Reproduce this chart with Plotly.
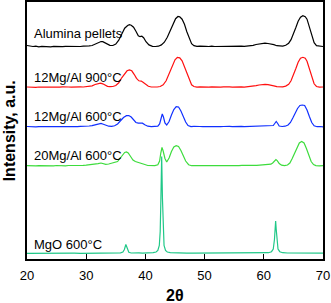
import plotly.graph_objects as go

# ---- data (2-theta in degrees, intensity in a.u. above each baseline) ----
alumina_2theta = [20, 20.5, 21, 21.5, 22, 22.5, 23, 23.5, 24, 24.5, 25, 25.5, 26, 26.5, 27, 27.5, 28, 28.5, 29, 29.5,
                  30, 30.5, 31, 31.5, 32, 32.5, 32.8, 33.2, 33.6, 34, 34.5, 35, 35.5, 36, 36.5, 37, 37.3, 37.6, 38, 38.4,
                  38.8, 39.1, 39.4, 39.7, 40.1, 40.6, 41.2, 41.7, 42.2, 42.7, 43.2, 43.7, 44.2, 44.7, 45.1, 45.5, 45.8, 46.2, 46.6, 47,
                  47.4, 47.8, 48.2, 48.7, 49.2, 49.7, 50.2, 50.7, 51.2, 51.7, 52.2, 52.7, 53.2, 53.7, 54.2, 54.7, 55.2, 55.7, 56.2, 56.7,
                  57.2, 57.7, 58.2, 58.7, 59.2, 59.7, 60.2, 60.7, 61.2, 61.7, 62.2, 62.7, 63.2, 63.7, 64.2, 64.6, 65, 65.4, 65.8, 66.2,
                  66.6, 67.0, 67.3, 67.7, 68.1, 68.5, 68.9, 69.4, 70]
alumina_int = [1.2, 0.6, 0.2, 0.5, -0.1, 0.3, 0.1, 0.4, -0.2, 0.3, 0.1, 0.5, 0.0, 0.3, 0.2, 0.6, 0.1, 0.4, 0.2, 0.5,
               0.4, 0.8, 1.2, 2.7, 4.2, 5.2, 5.0, 3.5, 2.2, 1.3, 1.2, 2.7, 6.5, 12.5, 18.5, 21.2, 22.0, 21.5, 19.5, 15.5,
               11.0, 10.0, 10.5, 9.0, 5.0, 1.8, 0.4, 0.2, 0.5, 1.8, 4.5, 9.5, 16.0, 23.0, 28.0, 30.2, 29.8, 27.5, 22.5, 15.0,
               8.5, 3.0, 1.0, 0.3, 0.5, 0.1, 0.4, 0.2, 0.6, 0.2, 0.3, 0.1, 0.5, 0.2, 0.4, 0.1, 0.5, 0.3, 0.6, 0.4,
               0.7, 0.8, 1.3, 2.2, 2.8, 3.3, 3.6, 3.2, 2.9, 2.0, 1.0, 0.5, 0.6, 1.5, 3.5, 7.0, 12.5, 19.0, 25.5, 29.5,
               31.0, 30.0, 27.5, 20.0, 11.0, 4.0, 1.0, 0.3, 0.2]

mg12_900_2theta = [20, 20.5, 21, 21.5, 22, 22.5, 23, 23.5, 24, 24.5, 25, 25.5, 26, 26.5, 27, 27.5, 28, 28.5, 29, 29.5,
                   30, 30.5, 31, 31.5, 32, 32.4, 32.8, 33.2, 33.6, 34, 34.5, 35, 35.5, 36, 36.5, 36.9, 37.3, 37.7, 38.1, 38.5,
                   38.9, 39.3, 39.6, 40, 40.5, 41, 41.5, 42, 42.5, 43, 43.5, 44, 44.5, 45, 45.4, 45.8, 46.2, 46.6, 47, 47.4,
                   47.8, 48.2, 48.7, 49.2, 49.7, 50.2, 50.7, 51.2, 51.7, 52.2, 52.7, 53.2, 53.7, 54.2, 54.7, 55.2, 55.7, 56.2, 56.7, 57.2,
                   57.7, 58.2, 58.7, 59.2, 59.7, 60.2, 60.7, 61.2, 61.7, 62.2, 62.7, 63.2, 63.7, 64.2, 64.6, 65, 65.4, 65.8, 66.2, 66.6,
                   67.0, 67.3, 67.7, 68.1, 68.5, 68.9, 69.4, 70]
mg12_900_int = [0.3, 0.1, 0.4, 0.0, 0.3, 0.2, 0.5, 0.1, 0.3, 0.0, 0.4, 0.2, 0.5, 0.1, 0.3, 0.2, 0.5, 0.2, 0.4, 0.3,
                0.6, 0.8, 1.5, 2.8, 3.6, 4.2, 3.5, 2.0, 1.0, 0.6, 0.8, 1.8, 4.5, 9.5, 14.0, 16.5, 17.3, 16.5, 13.0, 9.0,
                6.5, 6.2, 5.0, 3.0, 1.0, 0.3, 0.1, 0.3, 0.8, 2.5, 6.5, 13.0, 21.0, 27.5, 30.0, 29.5, 26.5, 20.5, 13.5, 7.0,
                2.5, 0.8, 0.2, 0.4, 0.1, 0.5, 0.2, 0.4, 0.1, 0.3, 0.2, 0.5, 0.1, 0.4, 0.2, 0.5, 0.3, 0.4, 0.2, 0.5,
                0.5, 0.9, 1.6, 2.3, 2.8, 3.0, 2.6, 2.2, 1.4, 0.6, 0.3, 0.5, 1.2, 3.0, 6.5, 12.0, 18.5, 25.0, 29.0, 30.0,
                29.0, 26.0, 18.5, 10.0, 3.5, 0.8, 0.2, 0.3]

mg12_600_2theta = [20, 20.5, 21, 21.5, 22, 22.5, 23, 23.5, 24, 24.5, 25, 25.5, 26, 26.5, 27, 27.5, 28, 28.5, 29, 29.5,
                   30, 30.5, 31, 31.5, 32, 32.5, 32.9, 33.3, 33.8, 34.3, 34.8, 35.3, 35.8, 36.3, 36.8, 37.2, 37.6, 38, 38.4, 38.8,
                   39.2, 39.5, 39.9, 40.4, 41, 41.6, 42.1, 42.4, 42.65, 42.85, 43.05, 43.3, 43.6, 44, 44.4, 44.8, 45.2, 45.6, 46, 46.4,
                   46.8, 47.2, 47.7, 48.2, 48.7, 49.2, 49.7, 50.2, 50.7, 51.2, 51.7, 52.2, 52.7, 53.2, 53.7, 54.2, 54.7, 55.2, 55.7, 56.2,
                   56.7, 57.2, 57.7, 58.2, 58.7, 59.2, 59.7, 60.2, 60.7, 61.2, 61.6, 61.85, 62.1, 62.35, 62.6, 63.1, 63.6, 64.1, 64.5, 64.9,
                   65.3, 65.7, 66.1, 66.5, 66.9, 67.3, 67.7, 68.1, 68.5, 69, 69.5, 70]
mg12_600_int = [0.5, 0.2, 0.6, 0.1, 0.4, 0.2, 0.6, 0.3, 0.5, 0.1, 0.4, 0.3, 0.6, 0.2, 0.5, 0.3, 0.7, 0.4, 0.6, 0.5,
                0.8, 1.0, 1.4, 2.0, 2.8, 3.6, 2.8, 1.6, 0.8, 0.7, 1.2, 3.0, 6.5, 9.5, 11.3, 11.5, 10.0, 7.0, 4.5, 3.8,
                4.2, 3.8, 2.2, 0.8, 0.3, 0.4, 0.8, 3.0, 10.0, 13.0, 10.0, 4.0, 2.0, 5.5, 12.0, 17.5, 20.3, 20.0, 16.0, 10.0,
                5.0, 1.5, 0.4, 0.6, 0.2, 0.5, 0.3, 0.6, 0.2, 0.5, 0.4, 0.7, 0.3, 0.5, 0.2, 0.6, 0.4, 0.7, 0.3, 0.6,
                0.4, 0.5, 0.6, 0.8, 0.7, 1.1, 1.4, 1.2, 1.5, 1.1, 1.5, 3.5, 5.5, 3.5, 1.0, 0.5, 0.8, 2.0, 4.5, 9.0,
                14.0, 18.5, 21.5, 22.0, 21.5, 17.0, 10.5, 4.5, 1.2, 0.3, 0.5, 0.2]

mg20_600_2theta = [20, 20.5, 21, 21.5, 22, 22.5, 23, 23.5, 24, 24.5, 25, 25.5, 26, 26.5, 27, 27.5, 28, 28.5, 29, 29.5,
                   30, 30.5, 31, 31.5, 32, 32.5, 32.9, 33.3, 33.8, 34.3, 34.8, 35.3, 35.7, 36.1, 36.5, 36.8, 37.1, 37.5, 37.9, 38.3,
                   38.7, 39.1, 39.5, 39.9, 40.4, 41, 41.6, 42.1, 42.4, 42.6, 42.8, 43.0, 43.3, 43.6, 44.0, 44.4, 44.8, 45.2, 45.6, 46.0,
                   46.4, 46.8, 47.3, 47.8, 48.3, 48.8, 49.3, 49.8, 50.3, 50.8, 51.3, 51.8, 52.3, 52.8, 53.3, 53.8, 54.3, 54.8, 55.3, 55.8,
                   56.3, 56.8, 57.3, 57.8, 58.3, 58.8, 59.3, 59.8, 60.3, 60.8, 61.2, 61.5, 61.8, 62.05, 62.3, 62.6, 63, 63.5, 64, 64.4,
                   64.8, 65.2, 65.6, 66.0, 66.4, 66.8, 67.2, 67.6, 68, 68.4, 68.8, 69.4, 70]
mg20_600_int = [0.3, 0.0, 0.4, 0.1, 0.3, 0.2, 0.5, 0.2, 0.4, 0.1, 0.5, 0.3, 0.6, 0.2, 0.5, 0.4, 0.7, 0.5, 0.8, 0.6,
                0.9, 1.1, 1.4, 1.9, 2.4, 3.0, 2.2, 1.6, 2.0, 2.6, 3.2, 4.5, 7.5, 11.0, 13.5, 14.0, 13.0, 9.5, 6.0, 4.5,
                3.8, 3.6, 2.8, 1.5, 0.5, 0.2, 0.4, 1.2, 5.0, 13.0, 18.5, 15.0, 7.5, 4.0, 8.0, 14.5, 19.0, 20.3, 19.5, 15.5,
                10.0, 5.0, 1.3, 0.3, 0.5, 0.2, 0.6, 0.3, 0.5, 0.2, 0.6, 0.3, 0.5, 0.4, 0.7, 0.3, 0.6, 0.4, 0.5, 0.3,
                0.6, 0.5, 0.7, 0.6, 0.8, 0.7, 0.9, 1.0, 1.2, 1.3, 1.8, 3.0, 5.0, 6.5, 5.2, 2.5, 0.8, 0.4, 1.0, 3.0,
                7.5, 13.0, 19.0, 23.0, 24.5, 23.0, 17.5, 10.0, 4.5, 1.5, 0.4, 0.2, 0.3]

mgo_600_2theta = [20, 21, 22, 23, 24, 25, 26, 27, 28, 29, 30, 31, 32, 33, 34, 35, 35.8, 36.2, 36.45, 36.7,
                  36.95, 37.2, 37.6, 38.2, 38.6, 38.9, 39.5, 40.5, 41.3, 41.8, 42.1, 42.35, 42.5, 42.62, 42.75, 42.88, 43.0, 43.15, 43.4, 43.7,
                  44.2, 45, 46, 47, 48, 49, 50, 51, 52, 53, 54, 55, 56, 57, 58, 59, 60, 60.8, 61.3, 61.6,
                  61.8, 61.9, 62.0, 62.1, 62.2, 62.4, 62.7, 63.2, 64, 65, 66, 67, 68, 69, 70]
mgo_600_int = [0.2, 0.3, 0.2, 0.3, 0.2, 0.3, 0.2, 0.3, 0.3, 0.2, 0.3, 0.3, 0.3, 0.3, 0.4, 0.4, 0.6, 1.5, 4.0, 9.0,
               4.0, 1.2, 0.5, 0.5, 1.2, 0.6, 0.4, 0.5, 0.8, 1.5, 3.0, 8.0, 22.0, 55.0, 97.0, 55.0, 22.0, 8.0, 3.0, 1.5,
               0.8, 0.5, 0.4, 0.4, 0.3, 0.3, 0.3, 0.3, 0.3, 0.3, 0.3, 0.3, 0.3, 0.3, 0.4, 0.4, 0.5, 0.8, 1.8, 4.5,
               14.0, 24.0, 32.5, 24.0, 14.0, 4.5, 1.8, 0.8, 0.5, 0.4, 0.3, 0.3, 0.3, 0.3, 0.3]

series_names = ["Alumina pellets", "12Mg/Al 900°C", "12Mg/Al 600°C", "20Mg/Al 600°C", "MgO 600°C"]
series_x = [alumina_2theta, mg12_900_2theta, mg12_600_2theta, mg20_600_2theta, mgo_600_2theta]
series_y = [alumina_int, mg12_900_int, mg12_600_int, mg20_600_int, mgo_600_int]
series_offsets = [212.3, 171.7, 132.0, 93.0, 5.5]
label_heights = [226, 182, 142.5, 103.5, 15]
series_colors = ["#000000", "#ff1010", "#1030ff", "#3ddc3d", "#20c888"]

x_ticks = [20, 30, 40, 50, 60, 70]

FONT = "Liberation Sans, Arial, sans-serif"

fig = go.Figure()
for xs, ys, off, col, name in zip(series_x, series_y, series_offsets, series_colors, series_names):
    fig.add_trace(go.Scatter(x=xs, y=[v + off for v in ys], mode="lines",
                             line=dict(color=col, width=1.2), name=name, showlegend=False,
                             hoverinfo="skip"))

for name, h in zip(series_names, label_heights):
    fig.add_annotation(x=20.85, y=h, xref="x", yref="y", text=name, showarrow=False,
                       xanchor="left", yanchor="middle",
                       font=dict(family=FONT, size=13, color="black"))

fig.add_annotation(xref="paper", yref="paper", x=-0.058, y=0.5, text="<b>Intensity, a.u.</b>",
                   textangle=-90, showarrow=False, xanchor="center", yanchor="middle",
                   font=dict(family=FONT, size=16, color="black"))
fig.add_annotation(xref="paper", yref="paper", x=0.5, y=-0.143, text="<b>2θ</b>",
                   showarrow=False, xanchor="center", yanchor="middle",
                   font=dict(family=FONT, size=16, color="black"))

fig.update_layout(
    width=331, height=303,
    margin=dict(l=27, r=8, t=2, b=44, autoexpand=False),
    paper_bgcolor="white", plot_bgcolor="white",
    font=dict(family=FONT, size=13, color="black"),
)
fig.update_xaxes(range=[20, 70], tickvals=x_ticks, ticktext=[str(t) for t in x_ticks],
                 ticks="inside", ticklen=5, tickwidth=1, tickcolor="black",
                 ticklabelstandoff=4,
                 showline=True, linecolor="black", linewidth=1.5, mirror=True,
                 showgrid=False, zeroline=False, tickfont=dict(family=FONT, size=13))
fig.update_yaxes(range=[0, 257], showticklabels=False, ticks="",
                 showline=True, linecolor="black", linewidth=1.5, mirror=True,
                 showgrid=False, zeroline=False)

fig.write_html("out.html", config={"displayModeBar": False},
               post_script="document.body.style.margin='0px';document.body.style.overflow='hidden';")
